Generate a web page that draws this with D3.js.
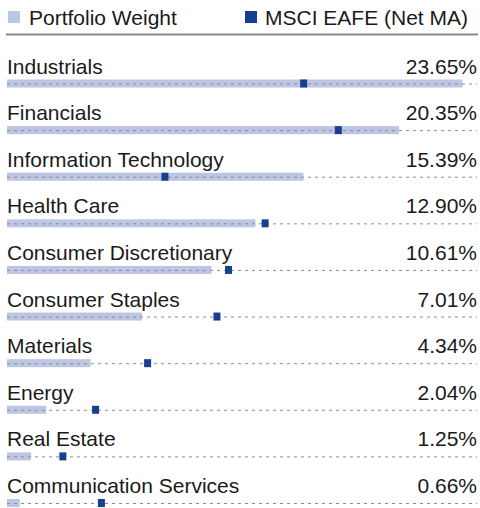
<!DOCTYPE html>
<html>
<head>
<meta charset="utf-8">
<script src="https://cdn.jsdelivr.net/npm/d3@7"></script>
<style>
  body { margin: 0; background: #fff; }
  text { font-family: "Liberation Sans", Arial, sans-serif; fill: #1a1a1a; }
</style>
</head>
<body>
<div class="chart"></div>
<script>
// Sector data
const sectors = ["Industrials", "Financials", "Information Technology", "Health Care",
  "Consumer Discretionary", "Consumer Staples", "Materials", "Energy", "Real Estate",
  "Communication Services"];
const portfolio = [23.65, 20.35, 15.39, 12.90, 10.61, 7.01, 4.34, 2.04, 1.25, 0.66];
const benchmark = [15.4, 17.2, 8.2, 13.4, 11.5, 10.9, 7.3, 4.6, 2.9, 4.9];
const legendLabels = ["Portfolio Weight", "MSCI EAFE (Net MA)"];

const width = 480;
const height = 508;
const lightBlue = "#bcc5e3";
const darkBlue = "#163f8f";

const svg = d3.select(".chart")
  .append("svg")
  .attr("width", width)
  .attr("height", height);

// scales
const x = d3.scaleLinear()
  .domain([0, 24.4])
  .range([7, 477]);

const y = d3.scalePoint()
  .domain(sectors)
  .range([83.5, 503]);

// legend
const legend = svg.append("g");
legend.append("rect")
  .attr("x", 8).attr("y", 11).attr("width", 12).attr("height", 12)
  .attr("fill", lightBlue);
legend.append("text")
  .attr("x", 29).attr("y", 25)
  .attr("font-size", 21)
  .text(legendLabels[0]);
legend.append("rect")
  .attr("x", 245).attr("y", 11).attr("width", 12).attr("height", 12)
  .attr("fill", darkBlue);
legend.append("text")
  .attr("x", 265).attr("y", 25)
  .attr("font-size", 21)
  .text(legendLabels[1]);

// rule under the legend
svg.append("line")
  .attr("x1", 6).attr("x2", 478)
  .attr("y1", 34.5).attr("y2", 34.5)
  .attr("stroke", "#8a8a8a")
  .attr("stroke-width", 2);

const rows = svg.selectAll(".row")
  .data(sectors)
  .enter().append("g")
  .attr("class", "row")
  .attr("transform", d => `translate(0, ${y(d)})`);

// bars
rows.append("rect")
  .attr("x", x(0))
  .attr("y", -4)
  .attr("height", 8)
  .attr("width", (d, i) => x(portfolio[i]) - x(0))
  .attr("fill", lightBlue);

// dotted guide
rows.append("line")
  .attr("x1", x(0)).attr("x2", x.range()[1])
  .attr("y1", 0.5).attr("y2", 0.5)
  .attr("stroke", "#8c8c8c")
  .attr("stroke-dasharray", "3,4");

// benchmark markers
rows.append("rect")
  .attr("x", (d, i) => x(benchmark[i]) - 3.5)
  .attr("y", -4)
  .attr("width", 7)
  .attr("height", 8)
  .attr("fill", darkBlue);

// labels
rows.append("text")
  .attr("x", 7)
  .attr("y", -10)
  .attr("font-size", 21)
  .text(d => d);

rows.append("text")
  .attr("x", 477)
  .attr("y", -10)
  .attr("text-anchor", "end")
  .attr("font-size", 21)
  .text((d, i) => portfolio[i].toFixed(2) + "%");
</script>
</body>
</html>
